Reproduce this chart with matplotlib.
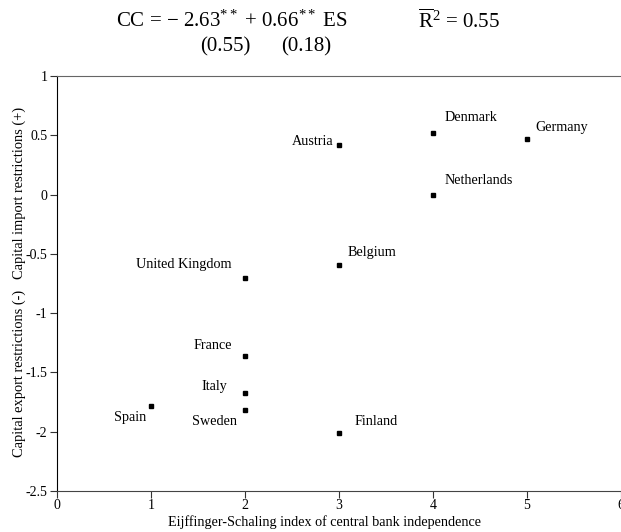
import matplotlib
matplotlib.use("Agg")
import matplotlib.pyplot as plt

plt.rcParams['font.family'] = ['Liberation Serif', 'DejaVu Serif']
plt.rcParams['mathtext.fontset'] = 'custom'
plt.rcParams['mathtext.rm'] = 'Liberation Serif'
plt.rcParams['mathtext.it'] = 'Liberation Serif:italic'

# Data
countries = ["Denmark", "Germany", "Austria", "Netherlands", "Belgium",
             "United Kingdom", "France", "Italy", "Sweden", "Spain", "Finland"]
es_index = [4, 5, 3, 4, 3, 2, 2, 2, 2, 1, 3]
cc_index = [0.52, 0.47, 0.42, 0.0, -0.59, -0.70, -1.36, -1.67, -1.82, -1.78, -2.01]

# label offsets in pixels (dx, dy, ha)
offsets = {
    "Denmark": (12, 15, "left"),
    "Germany": (8, 11, "left"),
    "Austria": (-6, 3, "right"),
    "Netherlands": (12, 14, "left"),
    "Belgium": (9, 12, "left"),
    "United Kingdom": (-13, 13, "right"),
    "France": (-13, 10, "right"),
    "Italy": (-18, 6, "right"),
    "Sweden": (-8, -11, "right"),
    "Spain": (-5, -12, "right"),
    "Finland": (16, 11, "left"),
}

fig = plt.figure(figsize=(6.21, 5.32), dpi=100)
ax = fig.add_axes([57 / 621, 41 / 532, 564 / 621, 415 / 532])

ax.plot(es_index, cc_index, 's', color='black', markersize=3.5, linestyle='none')
for name, x, y in zip(countries, es_index, cc_index):
    dx, dy, ha = offsets[name]
    ax.annotate(name, (x, y), xytext=(dx, dy), textcoords='offset pixels',
                ha=ha, va='center', fontsize=10.2)

ax.set_xlim(0, 6)
ax.set_ylim(-2.5, 1)
ax.set_xticks([0, 1, 2, 3, 4, 5, 6])
ax.set_yticks([1, 0.5, 0, -0.5, -1, -1.5, -2, -2.5])
ax.set_yticklabels(["1", "0.5", "0", "-0.5", "-1", "-1.5", "-2", "-2.5"])
ax.tick_params(axis='both', direction='out', length=5, width=0.8, labelsize=10,
               colors='#333333', labelcolor='black')
ax.tick_params(axis='x', pad=1)
ax.tick_params(axis='y', pad=2)
ax.spines['right'].set_visible(False)
ax.spines['top'].set_color('#666666')
ax.spines['bottom'].set_color('#444444')
ax.spines['left'].set_color('black')

fig.text(19 / 621, 1 - 282 / 532,
         "Capital export restrictions (-)   Capital import restrictions (+)",
         rotation=90, ha='center', va='center', fontsize=10.4)
fig.text(325 / 621, 1 - 522 / 532,
         "Eijffinger-Schaling index of central bank independence",
         ha='center', va='center', fontsize=10.2)

fig.text(232 / 621, 1 - 21 / 532,
         r"CC = $-$ 2.63$^{**}$ + 0.66$^{**}$ ES",
         ha='center', va='center', fontsize=15)
fig.text(459 / 621, 1 - 21 / 532,
         r"$\overline{\mathrm{R}}^{2}$ = 0.55",
         ha='center', va='center', fontsize=15)
fig.text(225 / 621, 1 - 47 / 532, "(0.55)", ha='center', va='center', fontsize=15)
fig.text(306 / 621, 1 - 47 / 532, "(0.18)", ha='center', va='center', fontsize=15)

fig.savefig("out.png", dpi=100)
